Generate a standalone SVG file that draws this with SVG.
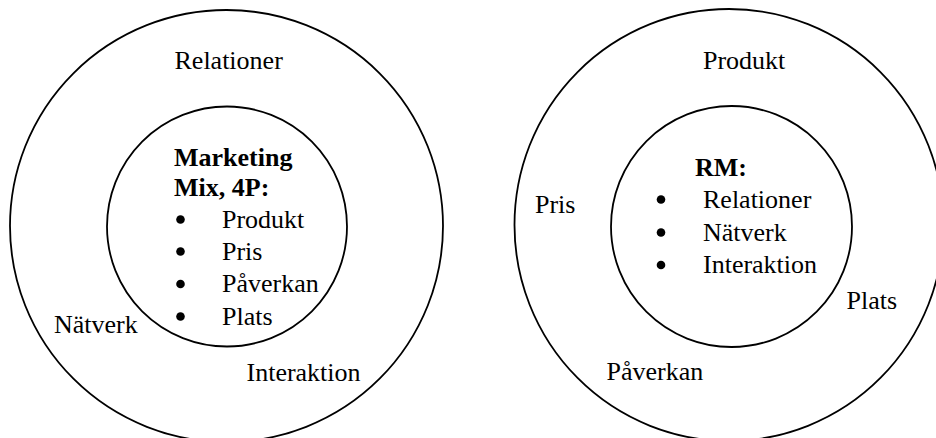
<svg xmlns="http://www.w3.org/2000/svg" width="936" height="438" viewBox="0 0 936 438">
  <style>
    .ring { fill: none; stroke: #000; stroke-width: 1.8; }
    .t { font-family: "Liberation Serif", "Times New Roman", serif; font-size: 26px; fill: #000; }
    .b { font-weight: bold; }
    .dot { fill: #000; }
  </style>
  <rect width="936" height="438" fill="#fff"/>

  <!-- Left model: Marketing Mix inside, relationship factors outside -->
  <g id="left-outer">
    <ellipse class="ring" cx="226.5" cy="226" rx="216.5" ry="216"/>
    <text class="t" x="174.5" y="68.5">Relationer</text>
    <text class="t" x="54" y="332.5">Nätverk</text>
    <text class="t" x="246.5" y="381">Interaktion</text>
  </g>
  <g id="left-inner">
    <circle class="ring" cx="227" cy="226.5" r="120"/>
    <text class="t b" x="174" y="166">Marketing</text>
    <text class="t b" x="174" y="195.5">Mix, 4P:</text>
    <circle class="dot" cx="180.5" cy="219.5" r="4.3"/>
    <text class="t" x="222" y="227.5">Produkt</text>
    <circle class="dot" cx="180.5" cy="251.5" r="4.3"/>
    <text class="t" x="222" y="259.5">Pris</text>
    <circle class="dot" cx="180.5" cy="284" r="4.3"/>
    <text class="t" x="222" y="292">Påverkan</text>
    <circle class="dot" cx="180.5" cy="316.5" r="4.3"/>
    <text class="t" x="222" y="324.5">Plats</text>
  </g>

  <!-- Right model: RM inside, 4P outside -->
  <g id="right-outer">
    <ellipse class="ring" cx="729" cy="225" rx="214.5" ry="216"/>
    <text class="t" x="703" y="68.5">Produkt</text>
    <text class="t" x="535" y="212.5">Pris</text>
    <text class="t" x="846.5" y="308.5">Plats</text>
    <text class="t" x="606.5" y="380">Påverkan</text>
  </g>
  <g id="right-inner">
    <circle class="ring" cx="731.5" cy="226.5" r="120.5"/>
    <text class="t b" x="695" y="176">RM:</text>
    <circle class="dot" cx="661" cy="199.5" r="4.3"/>
    <text class="t" x="703" y="207.5">Relationer</text>
    <circle class="dot" cx="661" cy="232.5" r="4.3"/>
    <text class="t" x="703" y="240.5">Nätverk</text>
    <circle class="dot" cx="661" cy="265" r="4.3"/>
    <text class="t" x="703" y="273">Interaktion</text>
  </g>
</svg>
